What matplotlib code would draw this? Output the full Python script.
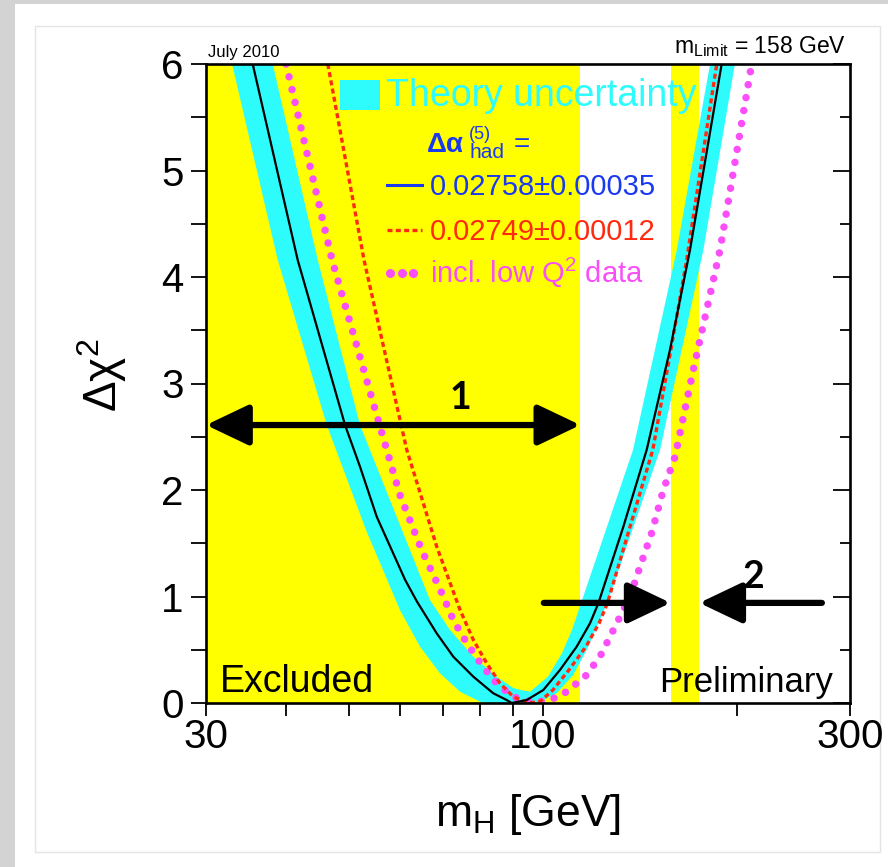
import matplotlib
matplotlib.use("Agg")
import matplotlib.pyplot as plt
from matplotlib.patches import Rectangle
from matplotlib.ticker import FixedLocator, FixedFormatter, NullFormatter

plt.rcParams['font.family'] = ['Liberation Sans', 'DejaVu Sans']
plt.rcParams['mathtext.fontset'] = 'custom'
plt.rcParams['mathtext.rm'] = 'Liberation Sans'
plt.rcParams['mathtext.it'] = 'Liberation Sans:italic'
plt.rcParams['mathtext.bf'] = 'Liberation Sans:bold'

# ---------------- data (mH in GeV, delta chi^2) ----------------
mh_black = [35.45, 41.64, 49.32, 52.03, 55.24, 61.15, 63.8, 68.45, 72.63, 78.03, 83.80, 87.91, 89.5,
            94.43, 100.2, 106.35, 112.9, 118.4, 122.0, 133.4, 145.0, 157.6, 169.3, 189.6]
chi2_black = [6.0, 4.16, 2.61, 2.219, 1.749, 1.155, 0.951, 0.654, 0.435, 0.247, 0.091, 0.028, 0.0,
              0.028, 0.122, 0.31, 0.529, 0.748, 0.936, 1.655, 2.376, 3.315, 4.254, 6.0]

mh_red = [46.37, 52.78, 61.48, 68.45, 74.41, 78.03, 81.84, 85.83, 90.0, 94.87,
          99.03, 103.7, 109.8, 116.7, 122.3, 126.0, 136.6, 148.2, 157.6, 167.3, 186.3]
chi2_red = [6.0, 4.16, 2.38, 1.468, 0.873, 0.592, 0.373, 0.185, 0.059, 0.0,
            0.014, 0.122, 0.31, 0.529, 0.748, 0.936, 1.653, 2.376, 3.268, 4.16, 6.0]

mh_lowq2 = [39.94, 47.08, 57.25, 60.02, 64.87, 69.68, 72.63, 75.73, 78.98, 83.80, 87.91, 91.1, 97.3,
            106.35, 116.3, 122.7, 127.2, 131.8, 136.6, 141.6, 147.6, 153.9, 160.5, 171.3, 188.5, 211.1]
chi2_lowq2 = [6.0, 4.16, 2.376, 1.953, 1.437, 1.033, 0.779, 0.592, 0.423, 0.216, 0.106, 0.047, 0.0,
              0.059, 0.247, 0.435, 0.623, 0.81, 0.998, 1.28, 1.596, 2.0, 2.313, 3.127, 4.254, 6.0]

# theory band: outer (lower) envelope and inner (upper) envelope
band_outer_mh = [32.93, 38.77, 46.20, 53.16, 60.02, 64.48, 69.25, 74.41, 79.92, 82.8, 95.6,
                 99.03, 105.1, 111.5, 117.0, 125.9, 152.1, 177.6, 198.8]
band_outer_chi2 = [6.0, 4.16, 2.61, 1.624, 0.873, 0.529, 0.279, 0.106, 0.012, 0.0, 0.0,
                   0.012, 0.091, 0.263, 0.498, 0.939, 2.376, 4.254, 6.0]
band_inner_mh = [38.08, 44.74, 52.03, 66.82, 71.79, 78.03, 84.82, 90.0, 92.5, 95.55,
                 101.9, 107.1, 111.0, 114.7, 138.1, 161.5, 181.9]
band_inner_chi2 = [6.0, 4.16, 2.61, 0.967, 0.685, 0.435, 0.247, 0.141, 0.122, 0.106,
                   0.247, 0.467, 0.685, 0.939, 2.376, 4.254, 6.0]

lep_limit = 114.4
tev_excl = (158.0, 175.0)
arrow1_chi2 = 2.61
arrow2_chi2 = 0.94
arrow2_tails = (100.4, 271.3)

xmajor = [30, 100, 300]
xmajor_labels = ['30', '100', '300']
xminor = [40, 50, 60, 70, 80, 90, 200]

# ---------------- colours ----------------
YELLOW = '#ffff00'
CYAN = '#2efcfc'
BLUE = '#1a3af0'
RED = '#ff2a10'
MAGENTA = '#fa4ef8'

W, H = 888, 867
fig = plt.figure(figsize=(W / 100, H / 100), dpi=100)
fig.patch.set_facecolor('#d3d3d3')
fig.add_artist(Rectangle((15 / W, 0), 1 - 15 / W, 1 - 4 / H, transform=fig.transFigure,
                         facecolor='white', edgecolor='none', zorder=-10))
fig.add_artist(Rectangle((35 / W, 1 - 852 / H), (880 - 35) / W, (852 - 26) / H,
                         transform=fig.transFigure, facecolor='none', edgecolor='#e4e4e4',
                         lw=1, zorder=-9))

L, R, T, B = 206, 850, 64, 703
ax = fig.add_axes([L / W, 1 - B / H, (R - L) / W, (B - T) / H])


def axx(x):
    return (x - L) / (R - L)


def axy(y):
    return (B - y) / (B - T)


ax.set_xscale('log')
ax.set_xlim(30, 300)
ax.set_ylim(0, 6)

ax.axvspan(30, lep_limit, color=YELLOW, lw=0, zorder=0)
ax.axvspan(tev_excl[0], tev_excl[1], color=YELLOW, lw=0, zorder=0)

ax.fill(band_outer_mh + band_inner_mh[::-1], band_outer_chi2 + band_inner_chi2[::-1],
        color=CYAN, lw=0, zorder=1)
ax.plot(mh_lowq2, chi2_lowq2, color=MAGENTA, lw=5.4, linestyle=(0, (0.001, 1.75)),
        dash_capstyle='round', zorder=2)
ax.plot(mh_red, chi2_red, color=RED, lw=2.4, linestyle=(0, (1.5, 1.0)), zorder=3)
ax.plot(mh_black, chi2_black, color='black', lw=1.6, zorder=4, solid_joinstyle='round')

# ticks
ax.xaxis.set_major_locator(FixedLocator(xmajor))
ax.xaxis.set_major_formatter(FixedFormatter(xmajor_labels))
ax.xaxis.set_minor_locator(FixedLocator(xminor))
ax.xaxis.set_minor_formatter(NullFormatter())
ax.yaxis.set_major_locator(FixedLocator([0, 1, 2, 3, 4, 5, 6]))
ax.yaxis.set_minor_locator(FixedLocator([0.5, 1.5, 2.5, 3.5, 4.5, 5.5]))
ax.tick_params(axis='x', which='both', direction='out', length=9, width=1.3, top=False,
               labelsize=29, pad=2)
ax.tick_params(axis='y', which='both', direction='out', length=11, width=1.3, right=False,
               labelsize=29, pad=5)
for s in ax.spines.values():
    s.set_linewidth(1.9)
    s.set_zorder(6)

ax2 = ax.twinx()
ax2.set_ylim(0, 6)
ax2.yaxis.set_major_locator(FixedLocator([0, 1, 2, 3, 4, 5, 6]))
ax2.yaxis.set_minor_locator(FixedLocator([0.5, 1.5, 2.5, 3.5, 4.5, 5.5]))
ax2.tick_params(axis='y', which='major', direction='in', length=12, width=1.3, labelright=False)
ax2.tick_params(axis='y', which='minor', direction='in', length=7, width=1.3, labelright=False)
for s in ax2.spines.values():
    s.set_visible(False)

# legend block
ax.add_patch(Rectangle((axx(340), axy(110)), 40 / (R - L), 30 / (B - T), transform=ax.transAxes,
                       facecolor=CYAN, edgecolor='none', zorder=7))
ax.text(axx(386), axy(106), 'Theory uncertainty', transform=ax.transAxes, color=CYAN,
        fontsize=27, va='baseline', ha='left', zorder=7)
ax.text(axx(427), axy(152), 'Δα', transform=ax.transAxes, color=BLUE, fontsize=20,
        fontweight='bold', va='baseline', ha='left', zorder=7)
ax.text(axx(469), axy(139), '(5)', transform=ax.transAxes, color=BLUE, fontsize=13,
        va='baseline', ha='left', zorder=7)
ax.text(axx(469), axy(158), 'had', transform=ax.transAxes, color=BLUE, fontsize=15,
        va='baseline', ha='left', zorder=7)
ax.text(axx(514), axy(152), '=', transform=ax.transAxes, color=BLUE, fontsize=20,
        va='baseline', ha='left', zorder=7)

ax.plot([axx(387), axx(422)], [axy(185), axy(185)], transform=ax.transAxes, color=BLUE,
        lw=2.2, zorder=7)
ax.text(axx(430), axy(195), '0.02758±0.00035', transform=ax.transAxes, color=BLUE,
        fontsize=21, va='baseline', ha='left', zorder=7)
ax.plot([axx(387), axx(422)], [axy(230), axy(230)], transform=ax.transAxes, color=RED,
        lw=2.4, linestyle=(0, (1.5, 1.0)), zorder=7)
ax.text(axx(430), axy(240), '0.02749±0.00012', transform=ax.transAxes, color=RED,
        fontsize=21, va='baseline', ha='left', zorder=7)
ax.plot([axx(390), axx(401.7), axx(413.3)], [axy(273)] * 3, transform=ax.transAxes,
        linestyle='none', marker='o', ms=6.5, mew=0, color=MAGENTA, zorder=7)
ax.text(axx(430), axy(283), 'incl. low Q$^{2}$ data', transform=ax.transAxes, color=MAGENTA,
        fontsize=21, va='baseline', ha='left', zorder=7)

ax.text(axx(220), axy(692), 'Excluded', transform=ax.transAxes, fontsize=27,
        va='baseline', ha='left', zorder=7)
ax.text(axx(833), axy(692), 'Preliminary', transform=ax.transAxes, fontsize=25,
        va='baseline', ha='right', zorder=7)

# arrows
arrow_kw = dict(color='black', lw=4.5, shrinkA=0, shrinkB=0, mutation_scale=25)
ax.annotate('', xy=(lep_limit, arrow1_chi2), xytext=(30, arrow1_chi2),
            arrowprops=dict(arrowstyle='<|-|>,head_length=1.05,head_width=0.5', **arrow_kw),
            annotation_clip=False, zorder=8)
ax.annotate('', xy=(tev_excl[0], arrow2_chi2), xytext=(arrow2_tails[0], arrow2_chi2),
            arrowprops=dict(arrowstyle='-|>,head_length=1.05,head_width=0.5', **arrow_kw),
            annotation_clip=False, zorder=8)
ax.annotate('', xy=(tev_excl[1], arrow2_chi2), xytext=(arrow2_tails[1], arrow2_chi2),
            arrowprops=dict(arrowstyle='-|>,head_length=1.05,head_width=0.5', **arrow_kw),
            annotation_clip=False, zorder=8)
ax.text(axx(460), axy(398), '1', transform=ax.transAxes, fontsize=27, fontweight='bold',
        family=['Lato', 'DejaVu Sans'], ha='center', va='center', zorder=8)
ax.text(axx(753), axy(577), '2', transform=ax.transAxes, fontsize=27, fontweight='bold',
        family=['Lato', 'DejaVu Sans'], ha='center', va='center', zorder=8)

# outside texts
fig.text(208 / W, 1 - 57 / H, 'July 2010', fontsize=12, ha='left', va='baseline')
fig.text(846 / W, 1 - 53 / H, r'm$_{\rm Limit}$ = 158 GeV', fontsize=16.5, ha='right', va='baseline')
fig.text(102 / W, 1 - 375 / H, r'$\mathrm{\Delta\chi}^{2}$', fontsize=33, rotation=90,
         ha='center', va='center')
fig.text(528 / W, 1 - 826 / H, r'm$_{\rm H}$ [GeV]', fontsize=32, ha='center', va='baseline')

fig.savefig('out.png', dpi=100, facecolor=fig.get_facecolor())
